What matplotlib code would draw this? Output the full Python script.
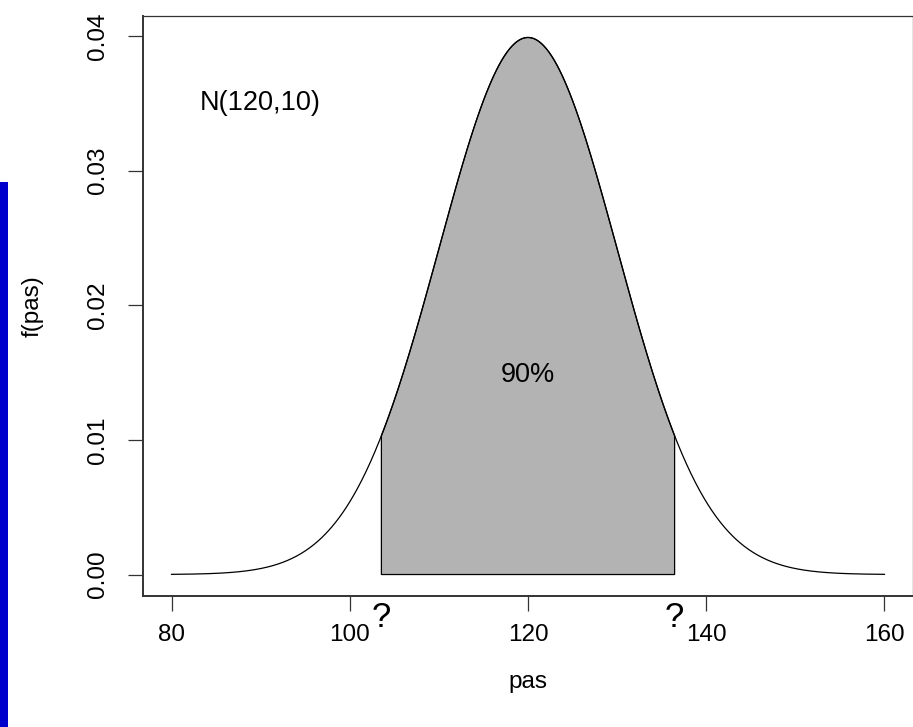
import numpy as np
import matplotlib
matplotlib.use("Agg")
import matplotlib.pyplot as plt
from matplotlib.patches import Rectangle

plt.rcParams['font.family'] = ['Liberation Sans', 'DejaVu Sans']

# data
mu = 120
sigma = 10
x_range = [80, 160]
z90 = 1.645
lower = mu - z90 * sigma
upper = mu + z90 * sigma
xticks = [80, 100, 120, 140, 160]
yticks = [0.00, 0.01, 0.02, 0.03, 0.04]
ytick_labels = ["0.00", "0.01", "0.02", "0.03", "0.04"]
label_dist = "N(120,10)"
label_pct = "90%"

x = np.linspace(x_range[0], x_range[1], 800)
f = np.exp(-0.5 * ((x - mu) / sigma) ** 2) / (sigma * np.sqrt(2 * np.pi))

fig = plt.figure(figsize=(9.13, 7.27), dpi=100)
ax = fig.add_axes([143 / 913, 1 - 596 / 727, 1 - 143 / 913, (596 - 16) / 727])

FS = 17.5
FT = 19.5

# shaded polygon
xs = np.linspace(lower, upper, 400)
fs = np.exp(-0.5 * ((xs - mu) / sigma) ** 2) / (sigma * np.sqrt(2 * np.pi))
px = np.concatenate([[lower], xs, [upper]])
py = np.concatenate([[0], fs, [0]])
ax.fill(px, py, facecolor="#b3b3b3", edgecolor="black", linewidth=0.9, zorder=2)
ax.plot(x, f, color="black", linewidth=0.9, zorder=3)

ymax = f.max()
dx = 0.04 * (x_range[1] - x_range[0])
ax.set_xlim(x_range[0] - dx, x_range[1] + dx)
ax.set_ylim(-0.04 * ymax, ymax * 1.04)

ax.set_xticks(xticks)
ax.set_xticklabels([str(t) for t in xticks], fontsize=FS)
ax.set_yticks(yticks)
ax.set_yticklabels(ytick_labels, fontsize=FS, rotation=90, va="center")
ax.tick_params(direction="out", length=10.5, width=0.9, color="#333333")
ax.tick_params(axis="x", pad=10)
ax.tick_params(axis="y", pad=14)
for s in ax.spines.values():
    s.set_linewidth(0.9)
    s.set_color("#333333")
ax.spines["bottom"].set_linewidth(1.4)
ax.spines["left"].set_linewidth(1.4)

ax.set_xlabel("pas", fontsize=FS, labelpad=18)
ax.set_ylabel("f(pas)", fontsize=FS, labelpad=31)

ax.text(90, 0.035, label_dist, fontsize=FT, ha="center", va="center")
ax.text(120, 0.0148, label_pct, fontsize=FT, ha="center", va="center")

for xv in [lower, upper]:
    ax.text(xv, -0.0032, "?", fontsize=25, ha="center", va="center", clip_on=False)

# blue bar at left edge
fig.patches.append(Rectangle((0, 0), 8 / 913, 1 - 182 / 727, transform=fig.transFigure,
                             facecolor="#0000cc", edgecolor="none"))

fig.savefig("out.png", dpi=100)
